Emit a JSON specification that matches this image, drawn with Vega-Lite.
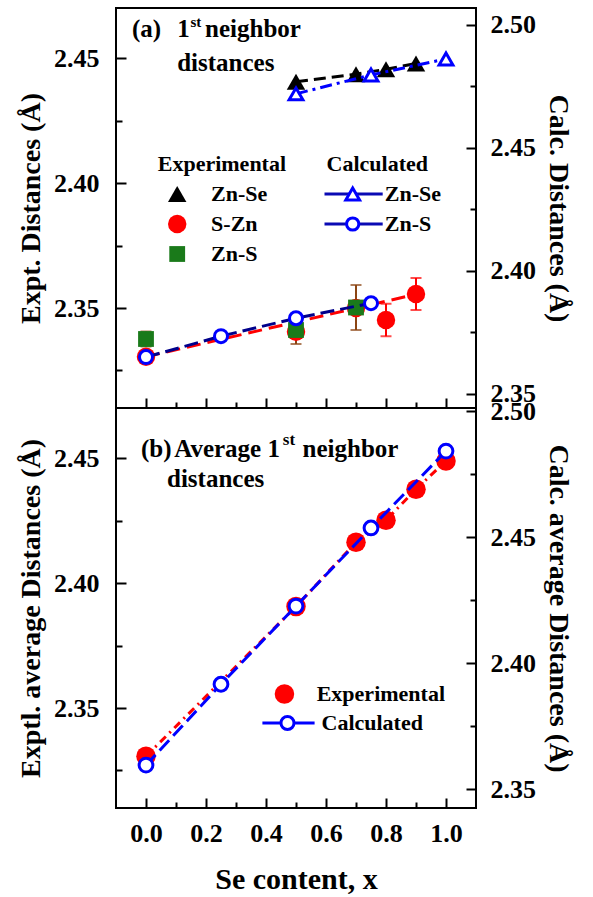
{
"$schema":"https://vega.github.io/schema/vega-lite/v6.json",
"background":"white",
"padding":{"left":16,"top":7,"right":10,"bottom":0},
"spacing":0,
"bounds":"flush",
"config":{
 "view":{"stroke":"black","strokeWidth":2},
 "axis":{"domain":false,"grid":false,"tickColor":"black","tickWidth":2,"labelColor":"black","titleColor":"black","labelFont":"Liberation Serif","titleFont":"Liberation Serif","labelFontWeight":"bold","titleFontWeight":"bold","labelFontSize":26,"titleFontSize":28}
},
"datasets":{
 "te":[
  {"series":"Zn-Se","x":0.5,"y":2.4405},{"series":"Zn-Se","x":0.7,"y":2.4435},{"series":"Zn-Se","x":0.8,"y":2.4455},{"series":"Zn-Se","x":0.9,"y":2.4478},
  {"series":"S-Zn","x":0.0,"y":2.3305,"lo":2.3285,"hi":2.3325},{"series":"S-Zn","x":0.5,"y":2.3405},{"series":"S-Zn","x":0.7,"y":2.35},{"series":"S-Zn","x":0.8,"y":2.3452,"lo":2.3387,"hi":2.3517},{"series":"S-Zn","x":0.9,"y":2.3556,"lo":2.3492,"hi":2.362},
  {"series":"Zn-S","x":0.0,"y":2.3376,"lo":2.3346,"hi":2.3406},{"series":"Zn-S","x":0.5,"y":2.3412,"lo":2.3356,"hi":2.3468},{"series":"Zn-S","x":0.7,"y":2.3502,"lo":2.3412,"hi":2.3592}
 ],
 "tfit":[{"x":0.0,"y":2.3305},{"x":0.9,"y":2.3555}],
 "tc":[
  {"series":"Zn-Se","x":0.5,"y":2.472},{"series":"Zn-Se","x":0.75,"y":2.4797},{"series":"Zn-Se","x":1.0,"y":2.4862},
  {"series":"Zn-S","x":0.0,"y":2.365},{"series":"Zn-S","x":0.25,"y":2.3735},{"series":"Zn-S","x":0.5,"y":2.3808},{"series":"Zn-S","x":0.75,"y":2.3869}
 ],
 "be":[{"x":0.0,"y":2.3307},{"x":0.5,"y":2.3906},{"x":0.7,"y":2.4163},{"x":0.8,"y":2.4251},{"x":0.9,"y":2.4375},{"x":1.0,"y":2.4488}],
 "bc":[{"x":0.0,"y":2.3595},{"x":0.25,"y":2.3916},{"x":0.5,"y":2.4226},{"x":0.75,"y":2.4536},{"x":1.0,"y":2.4841}],
 "ttext":[{"x":-0.047,"y":2.4616,"text":"(a)"},{"x":0.104,"y":2.4616,"text":"1"},{"x":0.197,"y":2.4616,"text":"neighbor"},{"x":0.104,"y":2.448,"text":"distances"}],
 "tsup":[{"x":0.148,"y":2.4645,"text":"st"}],
 "thead":[{"x":0.253,"y":2.4076,"text":"Experimental"},{"x":0.771,"y":2.4076,"text":"Calculated"}],
 "tlab":[{"x":0.217,"y":2.3956,"text":"Zn-Se"},{"x":0.217,"y":2.3836,"text":"S-Zn"},{"x":0.217,"y":2.3716,"text":"Zn-S"},{"x":0.796,"y":2.3956,"text":"Zn-Se"},{"x":0.796,"y":2.3836,"text":"Zn-S"}],
 "tlline":[{"x":0.595,"x2":0.789,"y":2.3956},{"x":0.595,"x2":0.789,"y":2.3836}],
 "btext":[{"x":-0.017,"y":2.4536,"text":"(b)"},{"x":0.094,"y":2.4536,"text":"Average 1"},{"x":0.522,"y":2.4536,"text":"neighbor"},{"x":0.07,"y":2.4416,"text":"distances"}],
 "bsup":[{"x":0.456,"y":2.4572,"text":"st"}],
 "blab":[{"x":0.569,"y":2.3556,"text":"Experimental"},{"x":0.585,"y":2.344,"text":"Calculated"}],
 "blline":[{"x":0.388,"x2":0.562,"y":2.344}]
},
"vconcat":[
 {
  "width":360,"height":400,
  "resolve":{"scale":{"x":"independent","y":"independent"}},
  "layer":[
   {
    "encoding":{
     "x":{"field":"x","type":"quantitative","scale":{"domain":[-0.1,1.1],"nice":false,"zero":false},"axis":{"orient":"bottom","values":[0,0.2,0.4,0.6,0.8,1.0],"labels":false,"tickSize":-10,"title":null}},
     "y":{"field":"y","type":"quantitative","scale":{"domain":[2.31,2.47],"nice":false,"zero":false},"axis":{"orient":"left","values":[2.35,2.4,2.45],"format":".2f","tickSize":-10,"labelPadding":27,"title":"Expt. Distances (Å)","titlePadding":8}}
    },
    "layer":[
     {"data":{"name":"te"},"transform":[{"filter":"datum.series == 'Zn-Se'"}],"mark":{"type":"line","color":"black","strokeWidth":3,"strokeDash":[12,6]}},
     {"data":{"name":"tfit"},"mark":{"type":"line","color":"#ff0000","strokeWidth":3,"strokeDash":[14,7]}},
     {"data":{"name":"te"},"transform":[{"filter":"isValid(datum.lo) && datum.series == 'S-Zn'"}],"mark":{"type":"rule","strokeWidth":2,"color":"#ff0000"},"encoding":{"y":{"field":"lo","type":"quantitative","scale":{"domain":[2.31,2.47],"nice":false,"zero":false},"axis":{"orient":"left","values":[2.35,2.4,2.45],"format":".2f","tickSize":-10,"labelPadding":27,"title":"Expt. Distances (Å)","titlePadding":8}},"y2":{"field":"hi"}}},
     {"data":{"name":"te"},"transform":[{"filter":"isValid(datum.lo) && datum.series == 'S-Zn'"}],"mark":{"type":"tick","orient":"horizontal","thickness":2,"size":11,"color":"#ff0000"},"encoding":{"y":{"field":"lo","type":"quantitative","scale":{"domain":[2.31,2.47],"nice":false,"zero":false},"axis":{"orient":"left","values":[2.35,2.4,2.45],"format":".2f","tickSize":-10,"labelPadding":27,"title":"Expt. Distances (Å)","titlePadding":8}}}},
     {"data":{"name":"te"},"transform":[{"filter":"isValid(datum.lo) && datum.series == 'S-Zn'"}],"mark":{"type":"tick","orient":"horizontal","thickness":2,"size":11,"color":"#ff0000"},"encoding":{"y":{"field":"hi","type":"quantitative","scale":{"domain":[2.31,2.47],"nice":false,"zero":false},"axis":{"orient":"left","values":[2.35,2.4,2.45],"format":".2f","tickSize":-10,"labelPadding":27,"title":"Expt. Distances (Å)","titlePadding":8}}}},
     {"data":{"name":"te"},"transform":[{"filter":"isValid(datum.lo) && datum.series == 'Zn-S'"}],"mark":{"type":"rule","strokeWidth":2,"color":"#8b4513"},"encoding":{"y":{"field":"lo","type":"quantitative","scale":{"domain":[2.31,2.47],"nice":false,"zero":false},"axis":{"orient":"left","values":[2.35,2.4,2.45],"format":".2f","tickSize":-10,"labelPadding":27,"title":"Expt. Distances (Å)","titlePadding":8}},"y2":{"field":"hi"}}},
     {"data":{"name":"te"},"transform":[{"filter":"isValid(datum.lo) && datum.series == 'Zn-S'"}],"mark":{"type":"tick","orient":"horizontal","thickness":2,"size":11,"color":"#8b4513"},"encoding":{"y":{"field":"lo","type":"quantitative","scale":{"domain":[2.31,2.47],"nice":false,"zero":false},"axis":{"orient":"left","values":[2.35,2.4,2.45],"format":".2f","tickSize":-10,"labelPadding":27,"title":"Expt. Distances (Å)","titlePadding":8}}}},
     {"data":{"name":"te"},"transform":[{"filter":"isValid(datum.lo) && datum.series == 'Zn-S'"}],"mark":{"type":"tick","orient":"horizontal","thickness":2,"size":11,"color":"#8b4513"},"encoding":{"y":{"field":"hi","type":"quantitative","scale":{"domain":[2.31,2.47],"nice":false,"zero":false},"axis":{"orient":"left","values":[2.35,2.4,2.45],"format":".2f","tickSize":-10,"labelPadding":27,"title":"Expt. Distances (Å)","titlePadding":8}}}},
     {"data":{"name":"te"},"transform":[{"filter":"datum.series == 'S-Zn'"}],"mark":{"type":"point","shape":"circle","filled":true,"color":"#ff0000","size":340,"opacity":1}},
     {"data":{"name":"te"},"transform":[{"filter":"datum.series == 'Zn-S'"}],"mark":{"type":"point","shape":"square","filled":true,"color":"#1a7a1a","size":250,"opacity":1}},
     {"data":{"name":"te"},"transform":[{"filter":"datum.series == 'Zn-Se'"}],"mark":{"type":"point","shape":"triangle-up","filled":true,"color":"black","size":340,"opacity":1}},
     {"data":{"name":"ttext"},"mark":{"type":"text","align":"left","baseline":"middle","font":"Liberation Serif","fontWeight":"bold","fontSize":25,"color":"black"},"encoding":{"text":{"field":"text"}}},
     {"data":{"name":"tsup"},"mark":{"type":"text","align":"left","baseline":"middle","font":"Liberation Serif","fontWeight":"bold","fontSize":15,"color":"black"},"encoding":{"text":{"field":"text"}}},
     {"data":{"name":"thead"},"mark":{"type":"text","align":"center","baseline":"middle","font":"Liberation Serif","fontWeight":"bold","fontSize":22,"color":"black"},"encoding":{"text":{"field":"text"}}},
     {"data":{"name":"tlab"},"mark":{"type":"text","align":"left","baseline":"middle","font":"Liberation Serif","fontWeight":"bold","fontSize":22,"color":"black"},"encoding":{"text":{"field":"text"}}},
     {"data":{"name":"tlline"},"mark":{"type":"rule","color":"#0a0ab4","strokeWidth":3},"encoding":{"x2":{"field":"x2"}}},
     {"data":{"values":[{"x":0.104,"y":2.3956}]},"mark":{"type":"point","shape":"triangle-up","filled":true,"color":"black","size":340,"opacity":1}},
     {"data":{"values":[{"x":0.104,"y":2.3836}]},"mark":{"type":"point","shape":"circle","filled":true,"color":"#ff0000","size":340,"opacity":1}},
     {"data":{"values":[{"x":0.104,"y":2.3716}]},"mark":{"type":"point","shape":"square","filled":true,"color":"#1a7a1a","size":250,"opacity":1}},
     {"data":{"values":[{"x":0.689,"y":2.3956}]},"mark":{"type":"point","shape":"triangle-up","filled":true,"fill":"white","stroke":"#0000ff","strokeWidth":3,"size":190,"opacity":1}},
     {"data":{"values":[{"x":0.689,"y":2.3836}]},"mark":{"type":"point","shape":"circle","filled":true,"fill":"white","stroke":"#0000ff","strokeWidth":3,"size":150,"opacity":1}}
    ]
   },
   {
    "data":{"name":"tc"},
    "encoding":{
     "x":{"field":"x","type":"quantitative","scale":{"domain":[-0.1,1.1],"nice":false,"zero":false},"axis":null},
     "y":{"field":"y","type":"quantitative","scale":{"domain":[2.3443,2.5069],"nice":false,"zero":false},"axis":{"orient":"right","values":[2.35,2.4,2.45,2.5],"format":".2f","tickSize":-10,"labelPadding":24,"title":"Calc. Distances (Å)","titlePadding":8}}
    },
    "layer":[
     {"transform":[{"filter":"datum.series == 'Zn-S'"}],"mark":{"type":"line","color":"#00008b","strokeWidth":3,"strokeDash":[14,6]}},
     {"transform":[{"filter":"datum.series == 'Zn-Se'"}],"mark":{"type":"line","color":"#0000ff","strokeWidth":3,"strokeDash":[12,5,3,5]}},
     {"transform":[{"filter":"datum.series == 'Zn-S'"}],"mark":{"type":"point","shape":"circle","filled":true,"fill":"white","stroke":"#0000ff","strokeWidth":3,"size":170,"opacity":1}},
     {"transform":[{"filter":"datum.series == 'Zn-Se'"}],"mark":{"type":"point","shape":"triangle-up","filled":true,"fill":"white","stroke":"#0000ff","strokeWidth":3,"size":190,"opacity":1}}
    ]
   },
   {
    "data":{"name":"te"},"mark":{"type":"point","opacity":0,"clip":true},
    "encoding":{
     "x":{"field":"x","type":"quantitative","scale":{"domain":[-0.1,1.1],"nice":false,"zero":false},"axis":{"orient":"bottom","values":[0.1,0.3,0.5,0.7,0.9],"labels":false,"tickSize":-6,"title":null}},
     "y":{"field":"y","type":"quantitative","scale":{"domain":[2.31,2.47],"nice":false,"zero":false},"axis":{"orient":"left","values":[2.325,2.375,2.425],"labels":false,"tickSize":-6,"title":null}}
    }
   },
   {
    "data":{"name":"tc"},"mark":{"type":"point","opacity":0,"clip":true},
    "encoding":{
     "x":{"field":"x","type":"quantitative","scale":{"domain":[-0.1,1.1],"nice":false,"zero":false},"axis":null},
     "y":{"field":"y","type":"quantitative","scale":{"domain":[2.3443,2.5069],"nice":false,"zero":false},"axis":{"orient":"right","values":[2.375,2.425,2.475],"labels":false,"tickSize":-6,"title":null}}
    }
   }
  ]
 },
 {
  "width":360,"height":400,
  "resolve":{"scale":{"x":"independent","y":"independent"}},
  "layer":[
   {
    "encoding":{
     "x":{"field":"x","type":"quantitative","scale":{"domain":[-0.1,1.1],"nice":false,"zero":false},"axis":{"orient":"bottom","values":[0,0.2,0.4,0.6,0.8,1.0],"format":".1f","tickSize":-10,"labelPadding":22,"title":"Se content, x","titleFontSize":30,"titlePadding":18}},
     "y":{"field":"y","type":"quantitative","scale":{"domain":[2.31,2.47],"nice":false,"zero":false},"axis":{"orient":"left","values":[2.35,2.4,2.45],"format":".2f","tickSize":-10,"labelPadding":27,"title":"Exptl. average Distances (Å)","titlePadding":8}}
    },
    "layer":[
     {"data":{"name":"be"},"mark":{"type":"line","color":"#ff0000","strokeWidth":3,"strokeDash":[8,5,2,5]}},
     {"data":{"name":"be"},"mark":{"type":"point","shape":"circle","filled":true,"color":"#ff0000","size":380,"opacity":1}},
     {"data":{"name":"btext"},"mark":{"type":"text","align":"left","baseline":"middle","font":"Liberation Serif","fontWeight":"bold","fontSize":25,"color":"black"},"encoding":{"text":{"field":"text"}}},
     {"data":{"name":"bsup"},"mark":{"type":"text","align":"left","baseline":"middle","font":"Liberation Serif","fontWeight":"bold","fontSize":17,"color":"black"},"encoding":{"text":{"field":"text"}}},
     {"data":{"name":"blab"},"mark":{"type":"text","align":"left","baseline":"middle","font":"Liberation Serif","fontWeight":"bold","fontSize":22,"color":"black"},"encoding":{"text":{"field":"text"}}},
     {"data":{"name":"blline"},"mark":{"type":"rule","color":"#0000ff","strokeWidth":3},"encoding":{"x2":{"field":"x2"}}},
     {"data":{"values":[{"x":0.4615,"y":2.3556}]},"mark":{"type":"point","shape":"circle","filled":true,"color":"#ff0000","size":380,"opacity":1}},
     {"data":{"values":[{"x":0.4716,"y":2.344}]},"mark":{"type":"point","shape":"circle","filled":true,"fill":"white","stroke":"#0000ff","strokeWidth":3,"size":170,"opacity":1}}
    ]
   },
   {
    "data":{"name":"bc"},
    "encoding":{
     "x":{"field":"x","type":"quantitative","scale":{"domain":[-0.1,1.1],"nice":false,"zero":false},"axis":null},
     "y":{"field":"y","type":"quantitative","scale":{"domain":[2.3425,2.5012],"nice":false,"zero":false},"axis":{"orient":"right","values":[2.35,2.4,2.45,2.5],"format":".2f","tickSize":-10,"labelPadding":24,"title":"Calc. average Distances (Å)","titlePadding":8}}
    },
    "layer":[
     {"mark":{"type":"line","color":"#0000ff","strokeWidth":3,"strokeDash":[14,6]}},
     {"mark":{"type":"point","shape":"circle","filled":true,"fill":"white","stroke":"#0000ff","strokeWidth":3,"size":190,"opacity":1}}
    ]
   },
   {
    "data":{"name":"be"},"mark":{"type":"point","opacity":0,"clip":true},
    "encoding":{
     "x":{"field":"x","type":"quantitative","scale":{"domain":[-0.1,1.1],"nice":false,"zero":false},"axis":{"orient":"bottom","values":[0.1,0.3,0.5,0.7,0.9],"labels":false,"tickSize":-6,"title":null}},
     "y":{"field":"y","type":"quantitative","scale":{"domain":[2.31,2.47],"nice":false,"zero":false},"axis":{"orient":"left","values":[2.325,2.375,2.425],"labels":false,"tickSize":-6,"title":null}}
    }
   },
   {
    "data":{"name":"bc"},"mark":{"type":"point","opacity":0,"clip":true},
    "encoding":{
     "x":{"field":"x","type":"quantitative","scale":{"domain":[-0.1,1.1],"nice":false,"zero":false},"axis":null},
     "y":{"field":"y","type":"quantitative","scale":{"domain":[2.3425,2.5012],"nice":false,"zero":false},"axis":{"orient":"right","values":[2.375,2.425,2.475],"labels":false,"tickSize":-6,"title":null}}
    }
   }
  ]
 }
]
}
